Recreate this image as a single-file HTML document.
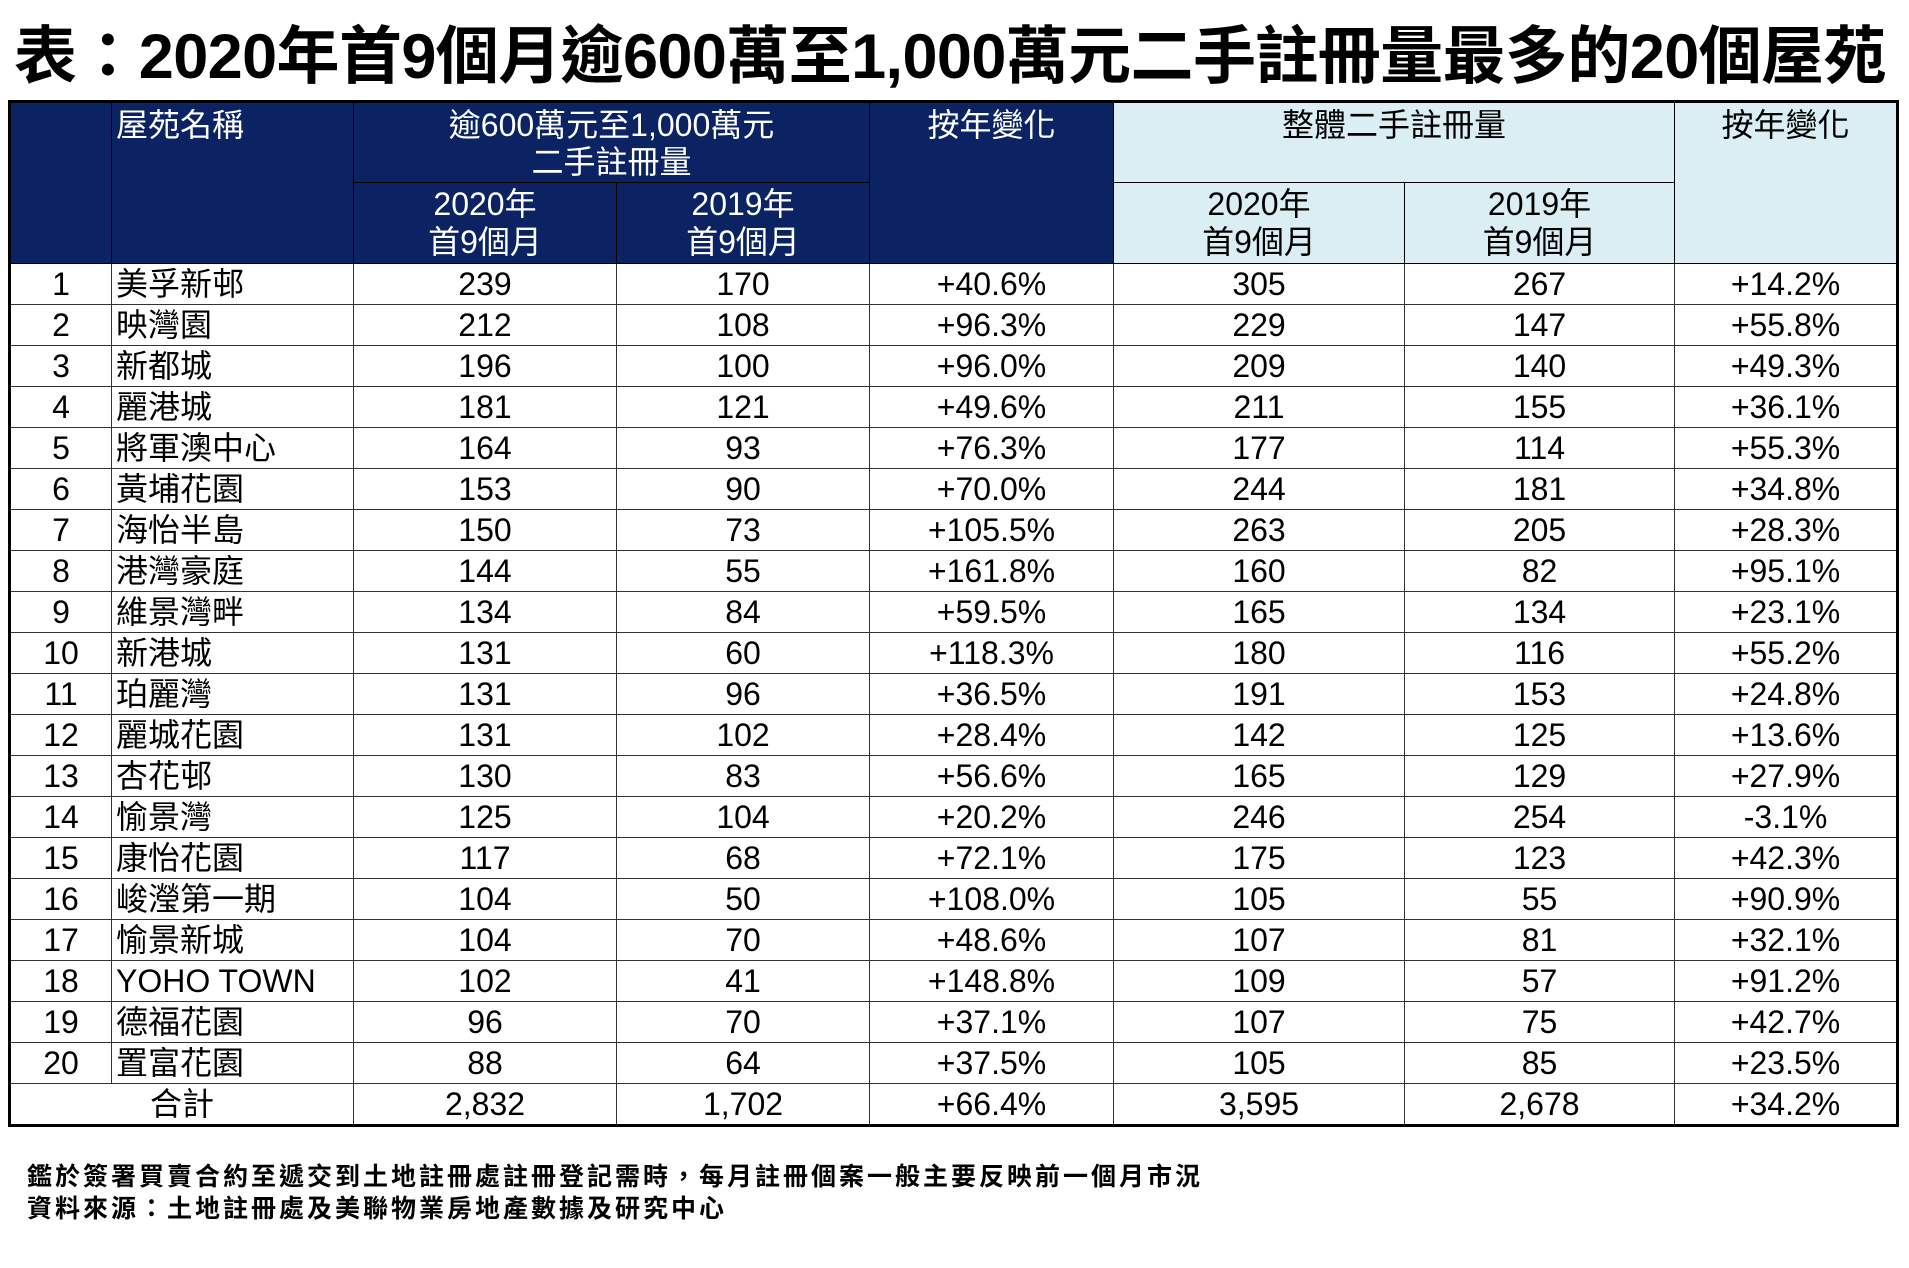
<!DOCTYPE html>
<html><head><meta charset="utf-8">
<style>
html,body{margin:0;padding:0;background:#fff;}
body{width:1909px;height:1268px;position:relative;overflow:hidden;font-family:"Liberation Sans","Noto Sans CJK TC",sans-serif;color:#000;}
.title{position:absolute;left:14px;top:18px;font-size:63px;font-weight:bold;line-height:78px;white-space:nowrap;letter-spacing:-0.6px;}
table{position:absolute;left:8px;top:100px;border-collapse:collapse;table-layout:fixed;width:1889px;border:3px solid #000;}
td{border:1.5px solid #333;padding:0;font-size:32px;text-align:center;height:40px;line-height:38px;white-space:nowrap;overflow:hidden;}
.n{background:#0b2263;color:#fff;border-color:#000;}
.l{background:#daeef3;color:#000;border-color:#000;}
.top{vertical-align:top;padding-top:4px;}
.name{text-align:left;padding-left:4px;}
.h2{height:80px;line-height:38px;}
.foot{position:absolute;left:27px;font-size:25px;font-weight:bold;white-space:nowrap;letter-spacing:3px;}
</style></head><body>
<div class="title">表：2020年首9個月逾600萬至1,000萬元二手註冊量最多的20個屋苑</div>
<table>
<colgroup><col style="width:102px"><col style="width:242px"><col style="width:263px"><col style="width:253px"><col style="width:244px"><col style="width:291px"><col style="width:270px"><col style="width:223px"></colgroup>
<tr><td class="n" rowspan="2"></td><td class="n top name" rowspan="2" style="line-height:36px">屋苑名稱</td><td class="n top" colspan="2" style="height:75px;line-height:37px">逾600萬元至1,000萬元<br>二手註冊量</td><td class="n top" rowspan="2" style="line-height:36px">按年變化</td><td class="l top" colspan="2" style="height:75px;line-height:36px">整體二手註冊量</td><td class="l top" rowspan="2" style="line-height:36px">按年變化</td></tr>
<tr><td class="n h2">2020年<br>首9個月</td><td class="n h2">2019年<br>首9個月</td><td class="l h2">2020年<br>首9個月</td><td class="l h2">2019年<br>首9個月</td></tr>
<tr><td>1</td><td class="name">美孚新邨</td><td>239</td><td>170</td><td>+40.6%</td><td>305</td><td>267</td><td>+14.2%</td></tr>
<tr><td>2</td><td class="name">映灣園</td><td>212</td><td>108</td><td>+96.3%</td><td>229</td><td>147</td><td>+55.8%</td></tr>
<tr><td>3</td><td class="name">新都城</td><td>196</td><td>100</td><td>+96.0%</td><td>209</td><td>140</td><td>+49.3%</td></tr>
<tr><td>4</td><td class="name">麗港城</td><td>181</td><td>121</td><td>+49.6%</td><td>211</td><td>155</td><td>+36.1%</td></tr>
<tr><td>5</td><td class="name">將軍澳中心</td><td>164</td><td>93</td><td>+76.3%</td><td>177</td><td>114</td><td>+55.3%</td></tr>
<tr><td>6</td><td class="name">黃埔花園</td><td>153</td><td>90</td><td>+70.0%</td><td>244</td><td>181</td><td>+34.8%</td></tr>
<tr><td>7</td><td class="name">海怡半島</td><td>150</td><td>73</td><td>+105.5%</td><td>263</td><td>205</td><td>+28.3%</td></tr>
<tr><td>8</td><td class="name">港灣豪庭</td><td>144</td><td>55</td><td>+161.8%</td><td>160</td><td>82</td><td>+95.1%</td></tr>
<tr><td>9</td><td class="name">維景灣畔</td><td>134</td><td>84</td><td>+59.5%</td><td>165</td><td>134</td><td>+23.1%</td></tr>
<tr><td>10</td><td class="name">新港城</td><td>131</td><td>60</td><td>+118.3%</td><td>180</td><td>116</td><td>+55.2%</td></tr>
<tr><td>11</td><td class="name">珀麗灣</td><td>131</td><td>96</td><td>+36.5%</td><td>191</td><td>153</td><td>+24.8%</td></tr>
<tr><td>12</td><td class="name">麗城花園</td><td>131</td><td>102</td><td>+28.4%</td><td>142</td><td>125</td><td>+13.6%</td></tr>
<tr><td>13</td><td class="name">杏花邨</td><td>130</td><td>83</td><td>+56.6%</td><td>165</td><td>129</td><td>+27.9%</td></tr>
<tr><td>14</td><td class="name">愉景灣</td><td>125</td><td>104</td><td>+20.2%</td><td>246</td><td>254</td><td>-3.1%</td></tr>
<tr><td>15</td><td class="name">康怡花園</td><td>117</td><td>68</td><td>+72.1%</td><td>175</td><td>123</td><td>+42.3%</td></tr>
<tr><td>16</td><td class="name">峻瀅第一期</td><td>104</td><td>50</td><td>+108.0%</td><td>105</td><td>55</td><td>+90.9%</td></tr>
<tr><td>17</td><td class="name">愉景新城</td><td>104</td><td>70</td><td>+48.6%</td><td>107</td><td>81</td><td>+32.1%</td></tr>
<tr><td>18</td><td class="name">YOHO TOWN</td><td>102</td><td>41</td><td>+148.8%</td><td>109</td><td>57</td><td>+91.2%</td></tr>
<tr><td>19</td><td class="name">德福花園</td><td>96</td><td>70</td><td>+37.1%</td><td>107</td><td>75</td><td>+42.7%</td></tr>
<tr><td>20</td><td class="name">置富花園</td><td>88</td><td>64</td><td>+37.5%</td><td>105</td><td>85</td><td>+23.5%</td></tr>
<tr><td colspan="2">合計</td><td>2,832</td><td>1,702</td><td>+66.4%</td><td>3,595</td><td>2,678</td><td>+34.2%</td></tr>
</table>
<div class="foot" style="top:1157px">鑑於簽署買賣合約至遞交到土地註冊處註冊登記需時，每月註冊個案一般主要反映前一個月市況</div>
<div class="foot" style="top:1189px">資料來源：土地註冊處及美聯物業房地產數據及研究中心</div>
</body></html>
